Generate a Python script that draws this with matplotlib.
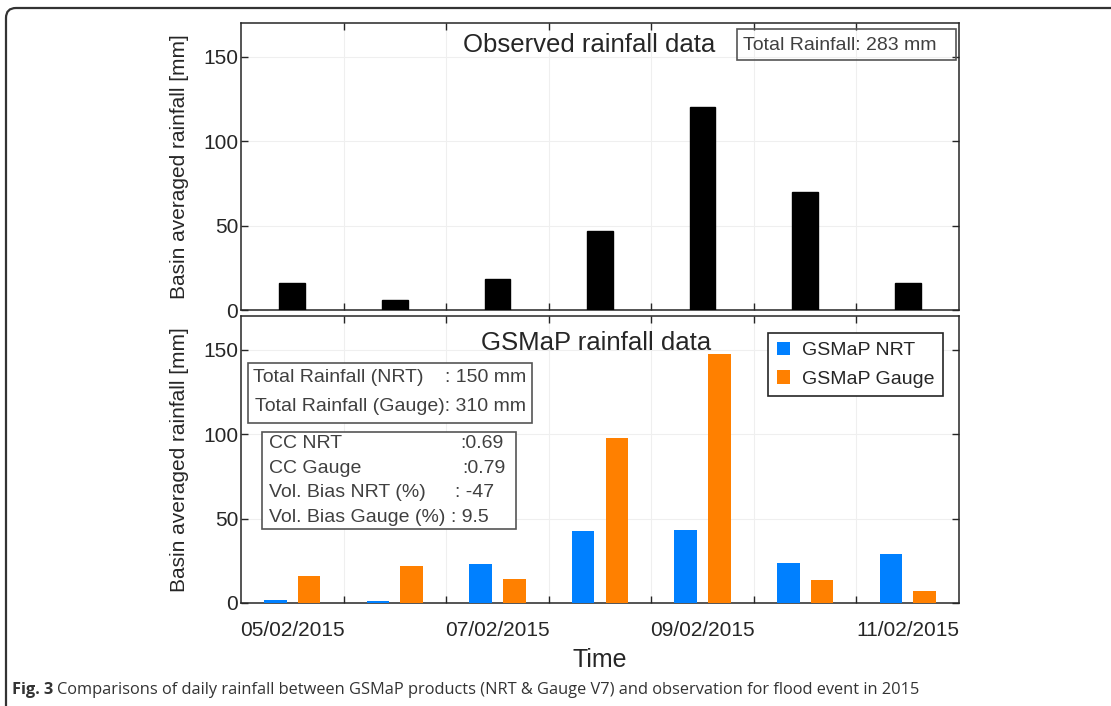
import numpy as np
import matplotlib
matplotlib.use("Agg")
import matplotlib.pyplot as plt
from matplotlib.patches import Rectangle, FancyBboxPatch

plt.rcParams['font.family'] = ['Liberation Sans', 'DejaVu Sans']

# daily values, 05/02/2015 .. 11/02/2015
dates = ['05/02/2015', '06/02/2015', '07/02/2015', '08/02/2015',
         '09/02/2015', '10/02/2015', '11/02/2015']
observed = [16, 6, 18.5, 47, 120, 70, 16]
gsmap_nrt = [2, 1, 23, 42.5, 43.5, 23.5, 29]
gsmap_gauge = [16, 22, 14.5, 97.5, 147.5, 13.5, 7]

obs_total = 'Total Rainfall: 283 mm'
totals = ['Total Rainfall (NRT)    : 150 mm', 'Total Rainfall (Gauge): 310 mm']
stat_names = ['CC NRT', 'CC Gauge', 'Vol. Bias NRT (%)', 'Vol. Bias Gauge (%)']
stat_values = [':0.69', ':0.79', ': -47', ': 9.5']

dark = '#262626'
gray_txt = '#404040'
blue = '#0080ff'
orange = '#ff8000'

x = np.arange(len(dates))

fig = plt.figure(figsize=(11.11, 7.06), dpi=100)
ax1 = fig.add_axes([0.2169, 0.5609, 0.6463, 0.4065])
ax2 = fig.add_axes([0.2169, 0.1459, 0.6463, 0.4065])

ax1.bar(x, observed, width=0.25, color='black', edgecolor='black', zorder=3)
ax2.bar(x - 0.165, gsmap_nrt, width=0.22, color=blue, label='GSMaP NRT', zorder=3)
ax2.bar(x + 0.165, gsmap_gauge, width=0.22, color=orange, label='GSMaP Gauge', zorder=3)

for ax in (ax1, ax2):
    ax.set_xlim(-0.5, len(dates) - 0.5)
    ax.set_ylim(0, 170)
    ax.set_yticks([0, 50, 100, 150])
    ax.set_xticks(x[::2])
    ax.set_xticks(x[:-1] + 0.5, minor=True)
    ax.tick_params(axis='x', which='major', length=0)
    ax.tick_params(axis='x', which='minor', direction='in', length=5,
                   top=True, bottom=True, color=dark, width=1)
    ax.tick_params(axis='y', direction='in', length=5, right=True,
                   color=dark, width=1, labelsize=15, labelcolor=dark, pad=2)
    ax.grid(True, which='minor', axis='x', color='#efefef', lw=0.8, zorder=0)
    ax.grid(True, which='major', axis='y', color='#efefef', lw=0.8, zorder=0)
    for s in ax.spines.values():
        s.set_color(dark)
        s.set_linewidth(1.1)
    ax.set_ylabel('Basin averaged rainfall [mm]', fontsize=15, color=dark, labelpad=10)

ax1.set_xticklabels([])
ax2.set_xticklabels(dates[::2], fontsize=15, color=dark)
ax2.tick_params(axis='x', which='major', pad=13)
ax2.set_xlabel('Time', fontsize=18, color=dark, labelpad=6)

ax1.text(0.485, 0.923, 'Observed rainfall data', transform=ax1.transAxes,
         ha='center', va='center', fontsize=18.5, color=dark)
ax1.add_patch(Rectangle((0.691, 0.871), 0.305, 0.108, transform=ax1.transAxes,
                        fill=False, ec='#555555', lw=1.2, zorder=5))
ax1.text(0.699, 0.923, obs_total, transform=ax1.transAxes, ha='left',
         va='center', fontsize=14, color=gray_txt, zorder=6)

ax2.text(0.494, 0.906, 'GSMaP rainfall data', transform=ax2.transAxes,
         ha='center', va='center', fontsize=18.5, color=dark)

ax2.add_patch(Rectangle((0.00975, 0.627), 0.395, 0.209, transform=ax2.transAxes,
                        fc='white', ec='#555555', lw=1.2, zorder=5))
for i, t in enumerate(totals):
    ax2.text(0.397, 0.784 - i * 0.101, t, transform=ax2.transAxes, ha='right',
             va='center', fontsize=14, color=gray_txt, zorder=6)

ax2.add_patch(Rectangle((0.0292, 0.258), 0.354, 0.338, transform=ax2.transAxes,
                        fc='white', ec='#555555', lw=1.2, zorder=5))
colon_x = [0.305, 0.308, 0.298, 0.292]
for i, (n, v) in enumerate(zip(stat_names, stat_values)):
    yy = 0.556 - i * 0.0857
    ax2.text(0.039, yy, n, transform=ax2.transAxes, ha='left', va='center',
             fontsize=14, color=gray_txt, zorder=6)
    ax2.text(colon_x[i], yy, v, transform=ax2.transAxes, ha='left', va='center',
             fontsize=14, color=gray_txt, zorder=6)

leg = ax2.legend(loc='upper right', bbox_to_anchor=(0.978, 0.941), borderaxespad=0,
                 fontsize=14, handlelength=0.7, handleheight=0.7, handletextpad=0.6,
                 fancybox=False, framealpha=1, edgecolor=dark, labelspacing=0.55,
                 borderpad=0.45)
leg.get_frame().set_linewidth(1.2)
for t in leg.get_texts():
    t.set_color(dark)

# outer frame (cut off at right and bottom)
frame = FancyBboxPatch((6, -30), 1300, 706 - 8 + 30, boxstyle='round,pad=0,rounding_size=10',
                       transform=None, fill=False, ec='#333333', lw=1.6)
fig.patches.append(frame)

# caption
renderer = fig.canvas.get_renderer()
c1 = fig.text(12 / 1111, 1 - 690 / 706, 'Fig. 3', fontsize=11.8, fontweight='bold',
              family=['Open Sans', 'DejaVu Sans'], color='#333333', va='center')
bb = c1.get_window_extent(renderer=renderer)
fig.text((bb.x1 + 4) / 1111, 1 - 690 / 706,
         'Comparisons of daily rainfall between GSMaP products (NRT & Gauge V7) and observation for flood event in 2015',
         fontsize=11.8, family=['Open Sans', 'DejaVu Sans'], color='#333333', va='center')

fig.savefig('out.png', dpi=100)
